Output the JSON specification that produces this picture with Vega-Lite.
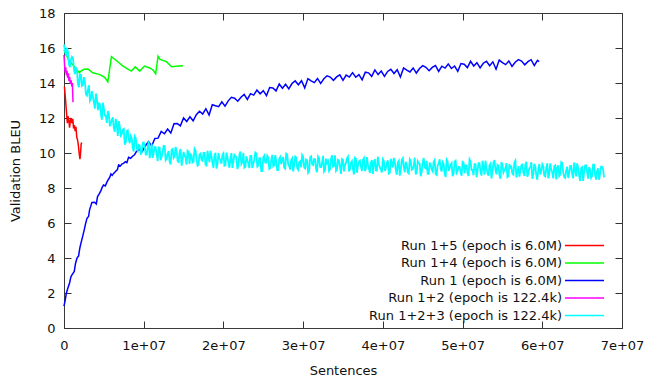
{
  "$schema": "https://vega.github.io/schema/vega-lite/v6.json",
  "width": 558,
  "height": 315,
  "autosize": {"type": "none"},
  "padding": {"left": 64, "top": 13, "right": 24, "bottom": 50},
  "background": "white",
  "config": {
    "font": "DejaVu Sans",
    "view": {"stroke": "#3a3a3a", "strokeWidth": 1},
    "axis": {
      "domain": false,
      "grid": false,
      "tickSize": -7,
      "tickColor": "#333333",
      "tickWidth": 1,
      "labelFont": "DejaVu Sans",
      "labelFontSize": 13,
      "labelColor": "#111111",
      "labelFlush": false,
      "labelOverlap": false,
      "titleFont": "DejaVu Sans",
      "titleFontSize": 13,
      "titleFontWeight": "normal",
      "titleColor": "#111111"
    },
    "legend": {
      "labelFont": "DejaVu Sans",
      "labelFontSize": 13,
      "labelColor": "#111111",
      "labelLimit": 400,
      "symbolType": "M-3,0H3",
      "symbolSize": 169,
      "symbolStrokeWidth": 1.5,
      "padding": 0,
      "rowPadding": 2.5
    }
  },
  "datasets": {
    "run15": [
      {"x":0.05,"y":13.8},{"x":0.15,"y":13.3},{"x":0.3,"y":12.4},{"x":0.42,"y":11.7},{"x":0.5,"y":12.1},{"x":0.6,"y":11.9},{"x":0.7,"y":11.45},{"x":0.8,"y":11.85},{"x":0.9,"y":12.0},{"x":1.0,"y":11.7},{"x":1.1,"y":11.95},{"x":1.2,"y":11.4},{"x":1.3,"y":11.6},{"x":1.4,"y":11.25},{"x":1.5,"y":11.5},{"x":1.6,"y":10.9},{"x":1.7,"y":10.75},{"x":1.8,"y":10.45},{"x":1.9,"y":10.0},{"x":2.0,"y":9.65},{"x":2.08,"y":10.0},{"x":2.15,"y":10.5},{"x":2.22,"y":10.6}
    ],
    "run14": [
      {"x":0,"y":15.9},{"x":0.6,"y":15.3},{"x":1.1,"y":15.05},{"x":1.9,"y":14.6},{"x":2.5,"y":14.78},{"x":3.0,"y":14.8},{"x":3.6,"y":14.58},{"x":4.5,"y":14.48},{"x":5.1,"y":14.33},{"x":5.5,"y":14.07},{"x":5.95,"y":15.5},{"x":6.6,"y":15.27},{"x":7.4,"y":14.97},{"x":8.45,"y":14.68},{"x":8.95,"y":14.92},{"x":9.5,"y":14.68},{"x":10.1,"y":14.97},{"x":10.75,"y":14.86},{"x":11.2,"y":14.73},{"x":11.5,"y":14.53},{"x":11.8,"y":15.53},{"x":12.05,"y":15.35},{"x":12.85,"y":15.22},{"x":13.5,"y":14.93},{"x":14.1,"y":14.96},{"x":14.95,"y":14.98}
    ],
    "run1": [
      {"x":0,"y":1.25},{"x":0.15,"y":1.6},{"x":0.3,"y":2.0},{"x":0.5,"y":2.3},{"x":0.7,"y":2.57},{"x":0.85,"y":2.9},{"x":1.0,"y":3.04},{"x":1.29,"y":3.23},{"x":1.45,"y":3.7},{"x":1.63,"y":3.99},{"x":1.83,"y":4.12},{"x":2.0,"y":4.6},{"x":2.13,"y":4.85},{"x":2.35,"y":5.25},{"x":2.54,"y":5.61},{"x":2.7,"y":5.95},{"x":2.88,"y":6.27},{"x":3.08,"y":6.37},{"x":3.21,"y":6.75},{"x":3.35,"y":6.95},{"x":3.5,"y":7.17},{"x":3.83,"y":7.19},{"x":4.05,"y":7.09},{"x":4.21,"y":7.51},{"x":4.4,"y":7.65},{"x":4.63,"y":7.85},{"x":4.8,"y":8.05},{"x":4.96,"y":8.17},{"x":5.18,"y":8.12},{"x":5.4,"y":8.35},{"x":5.59,"y":8.5},{"x":5.75,"y":8.62},{"x":5.89,"y":8.8},{"x":6.05,"y":8.72},{"x":6.2,"y":8.82},{"x":6.43,"y":8.93},{"x":6.7,"y":9.05},{"x":6.85,"y":9.32},{"x":7.06,"y":9.26},{"x":7.3,"y":9.38},{"x":7.47,"y":9.41},{"x":7.7,"y":9.5},{"x":7.89,"y":9.45},{"x":8.1,"y":9.75},{"x":8.35,"y":9.7},{"x":8.64,"y":9.83},{"x":8.85,"y":9.9},{"x":9.06,"y":10.07},
      {"x":9.4,"y":10.2},{"x":9.8,"y":10.08},{"x":10.2,"y":10.4},{"x":10.6,"y":10.65},{"x":11.0,"y":10.4},{"x":11.4,"y":10.83},{"x":11.8,"y":10.85},{"x":12.2,"y":11.23},{"x":12.6,"y":11.1},{"x":13.0,"y":11.37},{"x":13.4,"y":11.15},{"x":13.8,"y":11.67},{"x":14.2,"y":11.68},{"x":14.6,"y":11.55},{"x":15.0,"y":12.0},{"x":15.4,"y":11.8},{"x":15.8,"y":12.07},{"x":16.2,"y":11.84},{"x":16.6,"y":12.19},{"x":17.0,"y":12.39},{"x":17.4,"y":12.23},{"x":17.8,"y":12.53},{"x":18.2,"y":12.17},{"x":18.6,"y":12.76},{"x":19.0,"y":12.7},{"x":19.4,"y":12.65},{"x":19.8,"y":12.92},{"x":20.2,"y":12.68},{"x":20.6,"y":12.98},{"x":21.0,"y":13.18},{"x":21.4,"y":13.13},{"x":21.8,"y":12.96},{"x":22.2,"y":13.19},{"x":22.6,"y":13.35},{"x":23.0,"y":13.06},{"x":23.4,"y":13.39},{"x":23.8,"y":13.31},{"x":24.2,"y":13.6},{"x":24.6,"y":13.38},{"x":25.0,"y":13.56},{"x":25.4,"y":13.28},{"x":25.8,"y":13.74},{"x":26.2,"y":13.72},{"x":26.6,"y":13.55},{"x":27.0,"y":13.94},{"x":27.4,"y":13.7},{"x":27.8,"y":13.93},{"x":28.2,"y":13.66},{"x":28.6,"y":13.97},{"x":29.0,"y":14.12},{"x":29.4,"y":13.9},{"x":29.8,"y":14.13},{"x":30.2,"y":13.72},{"x":30.6,"y":14.25},{"x":31.0,"y":14.12},{"x":31.4,"y":14.02},{"x":31.8,"y":14.26},{"x":32.2,"y":13.98},{"x":32.6,"y":14.24},{"x":33.0,"y":14.41},{"x":33.4,"y":14.34},{"x":33.8,"y":14.15},{"x":34.2,"y":14.35},{"x":34.6,"y":14.47},{"x":35.0,"y":14.15},{"x":35.4,"y":14.45},{"x":35.8,"y":14.34},{"x":36.2,"y":14.59},{"x":36.6,"y":14.33},{"x":37.0,"y":14.48},{"x":37.4,"y":14.18},{"x":37.8,"y":14.62},{"x":38.2,"y":14.58},{"x":38.6,"y":14.38},{"x":39.0,"y":14.75},{"x":39.4,"y":14.48},{"x":39.8,"y":14.68},{"x":40.2,"y":14.38},{"x":40.6,"y":14.66},{"x":41.0,"y":14.78},{"x":41.4,"y":14.54},{"x":41.8,"y":14.76},{"x":42.2,"y":14.34},{"x":42.6,"y":14.86},{"x":43.0,"y":14.74},{"x":43.4,"y":14.63},{"x":43.8,"y":14.86},{"x":44.2,"y":14.57},{"x":44.6,"y":14.83},{"x":45.0,"y":14.99},{"x":45.4,"y":14.9},{"x":45.8,"y":14.7},{"x":46.2,"y":14.89},{"x":46.6,"y":15.0},{"x":47.0,"y":14.66},{"x":47.4,"y":14.96},{"x":47.8,"y":14.85},{"x":48.2,"y":15.09},{"x":48.6,"y":14.83},{"x":49.0,"y":14.97},{"x":49.4,"y":14.67},{"x":49.8,"y":15.11},{"x":50.2,"y":15.07},{"x":50.6,"y":14.88},{"x":51.0,"y":15.24},{"x":51.4,"y":14.97},{"x":51.8,"y":15.16},{"x":52.2,"y":14.86},{"x":52.6,"y":15.13},{"x":53.0,"y":15.24},{"x":53.4,"y":14.99},{"x":53.8,"y":15.21},{"x":54.2,"y":14.79},{"x":54.6,"y":15.31},{"x":55.0,"y":15.17},{"x":55.4,"y":15.05},{"x":55.8,"y":15.26},{"x":56.2,"y":14.95},{"x":56.6,"y":15.19},{"x":57.0,"y":15.34},{"x":57.4,"y":15.25},{"x":57.8,"y":15.04},{"x":58.2,"y":15.22},{"x":58.6,"y":15.33},{"x":59.0,"y":15.0},{"x":59.4,"y":15.29},{"x":59.6,"y":15.22}
    ],
    "run12": [
      {"x":0,"y":15.6},{"x":0.08,"y":15.0},{"x":0.15,"y":14.6},{"x":0.22,"y":14.9},{"x":0.3,"y":14.45},{"x":0.38,"y":14.7},{"x":0.45,"y":14.3},{"x":0.55,"y":14.55},{"x":0.62,"y":14.1},{"x":0.7,"y":14.35},{"x":0.8,"y":13.95},{"x":0.9,"y":14.15},{"x":0.98,"y":13.8},{"x":1.05,"y":14.0},{"x":1.13,"y":12.9}
    ],
    "run123": [
      {"x":0,"y":16.2},{"x":0.25,"y":15.55},{"x":0.5,"y":15.75},{"x":0.75,"y":14.9},{"x":1.0,"y":15.5},{"x":1.25,"y":14.78},{"x":1.5,"y":14.9},{"x":1.75,"y":13.93},{"x":2.0,"y":14.5},{"x":2.25,"y":13.84},{"x":2.5,"y":14.33},{"x":2.75,"y":13.36},{"x":3.0,"y":13.6},{"x":3.25,"y":12.99},{"x":3.5,"y":13.53},{"x":3.75,"y":12.91},{"x":4.0,"y":13.4},{"x":4.25,"y":12.45},{"x":4.5,"y":12.8},{"x":4.75,"y":11.9},{"x":5.0,"y":12.55},{"x":5.25,"y":12.13},{"x":5.5,"y":12.4},{"x":5.75,"y":11.53},{"x":6.0,"y":11.9},{"x":6.25,"y":11.43},{"x":6.5,"y":11.95},{"x":6.75,"y":10.98},{"x":7.0,"y":11.5},{"x":7.25,"y":11.09},{"x":7.5,"y":11.38},{"x":7.75,"y":10.61},{"x":8.0,"y":11.3},{"x":8.25,"y":10.56},{"x":8.5,"y":10.83},{"x":8.75,"y":10.09},{"x":9.0,"y":10.85},{"x":9.25,"y":10.14},{"x":9.5,"y":10.43},{"x":9.75,"y":10.06},
      {"x":10.0,"y":10.6},{"x":10.25,"y":9.92},{"x":10.5,"y":10.34},{"x":10.75,"y":9.71},{"x":11.0,"y":10.53},{"x":11.25,"y":10.0},{"x":11.5,"y":10.32},{"x":11.75,"y":9.54},{"x":12.0,"y":10.3},{"x":12.25,"y":9.78},{"x":12.5,"y":10.41},{"x":12.75,"y":9.59},{"x":13.0,"y":9.97},{"x":13.25,"y":9.5},{"x":13.5,"y":10.19},{"x":13.75,"y":9.72},{"x":14.0,"y":10.35},{"x":14.25,"y":9.54},{"x":14.5,"y":10.03},{"x":14.75,"y":9.27},{"x":15.0,"y":10.06},{"x":15.25,"y":9.74},{"x":15.5,"y":10.13},{"x":15.75,"y":9.37},{"x":16.0,"y":9.86},{"x":16.25,"y":9.5},{"x":16.5,"y":10.14},{"x":16.75,"y":9.28},{"x":17.0,"y":9.92},{"x":17.25,"y":9.61},{"x":17.5,"y":10.0},{"x":17.75,"y":9.34},{"x":18.0,"y":10.13},{"x":18.25,"y":9.47},{"x":18.5,"y":9.82},{"x":18.75,"y":9.16},{"x":19.0,"y":10.01},{"x":19.25,"y":9.35},{"x":19.5,"y":9.69},{"x":19.75,"y":9.39},
      {"x":20.0,"y":9.98},{"x":20.25,"y":9.32},{"x":20.5,"y":9.77},{"x":20.75,"y":9.16},{"x":21.0,"y":10.0},{"x":21.25,"y":9.5},{"x":21.5,"y":9.84},{"x":21.75,"y":9.08},{"x":22.0,"y":9.88},{"x":22.25,"y":9.37},{"x":22.5,"y":10.01},{"x":22.75,"y":9.21},{"x":23.0,"y":9.6},{"x":23.25,"y":9.14},{"x":23.5,"y":9.84},{"x":23.75,"y":9.38},{"x":24.0,"y":10.03},{"x":24.25,"y":9.22},{"x":24.5,"y":9.71},{"x":24.75,"y":8.96},{"x":25.0,"y":9.75},{"x":25.25,"y":9.45},{"x":25.5,"y":9.84},{"x":25.75,"y":9.09},{"x":26.0,"y":9.59},{"x":26.25,"y":9.23},{"x":26.5,"y":9.88},{"x":26.75,"y":9.02},{"x":27.0,"y":9.67},{"x":27.25,"y":9.37},{"x":27.5,"y":9.76},{"x":27.75,"y":9.11},{"x":28.0,"y":9.91},{"x":28.25,"y":9.25},{"x":28.5,"y":9.6},{"x":28.75,"y":8.94},{"x":29.0,"y":9.79},{"x":29.25,"y":9.14},{"x":29.5,"y":9.48},{"x":29.75,"y":9.18},
      {"x":30.0,"y":9.78},{"x":30.25,"y":9.12},{"x":30.5,"y":9.57},{"x":30.75,"y":8.96},{"x":31.0,"y":9.81},{"x":31.25,"y":9.31},{"x":31.5,"y":9.65},{"x":31.75,"y":8.9},{"x":32.0,"y":9.7},{"x":32.25,"y":9.19},{"x":32.5,"y":9.84},{"x":32.75,"y":9.03},{"x":33.0,"y":9.43},{"x":33.25,"y":8.98},{"x":33.5,"y":9.67},{"x":33.75,"y":9.22},{"x":34.0,"y":9.87},{"x":34.25,"y":9.06},{"x":34.5,"y":9.56},{"x":34.75,"y":8.8},{"x":35.0,"y":9.6},{"x":35.25,"y":9.3},{"x":35.5,"y":9.69},{"x":35.75,"y":8.94},{"x":36.0,"y":9.44},{"x":36.25,"y":9.08},{"x":36.5,"y":9.73},{"x":36.75,"y":8.88},{"x":37.0,"y":9.52},{"x":37.25,"y":9.22},{"x":37.5,"y":9.62},{"x":37.75,"y":8.96},{"x":38.0,"y":9.76},{"x":38.25,"y":9.11},{"x":38.5,"y":9.45},{"x":38.75,"y":8.8},{"x":39.0,"y":9.65},{"x":39.25,"y":8.99},{"x":39.5,"y":9.34},{"x":39.75,"y":9.04},
      {"x":40.0,"y":9.64},{"x":40.25,"y":8.98},{"x":40.5,"y":9.43},{"x":40.75,"y":8.83},{"x":41.0,"y":9.67},{"x":41.25,"y":9.17},{"x":41.5,"y":9.52},{"x":41.75,"y":8.76},{"x":42.0,"y":9.56},{"x":42.25,"y":9.06},{"x":42.5,"y":9.7},{"x":42.75,"y":8.9},{"x":43.0,"y":9.3},{"x":43.25,"y":8.84},{"x":43.5,"y":9.54},{"x":43.75,"y":9.09},{"x":44.0,"y":9.73},{"x":44.25,"y":8.93},{"x":44.5,"y":9.43},{"x":44.75,"y":8.67},{"x":45.0,"y":9.47},{"x":45.25,"y":9.17},{"x":45.5,"y":9.56},{"x":45.75,"y":8.81},{"x":46.0,"y":9.31},{"x":46.25,"y":8.95},{"x":46.5,"y":9.6},{"x":46.75,"y":8.75},{"x":47.0,"y":9.39},{"x":47.25,"y":9.09},{"x":47.5,"y":9.48},{"x":47.75,"y":8.83},{"x":48.0,"y":9.63},{"x":48.25,"y":8.97},{"x":48.5,"y":9.32},{"x":48.75,"y":8.67},{"x":49.0,"y":9.51},{"x":49.25,"y":8.86},{"x":49.5,"y":9.2},{"x":49.75,"y":8.9},
      {"x":50.0,"y":9.5},{"x":50.25,"y":8.84},{"x":50.5,"y":9.29},{"x":50.75,"y":8.69},{"x":51.0,"y":9.53},{"x":51.25,"y":9.03},{"x":51.5,"y":9.37},{"x":51.75,"y":8.62},{"x":52.0,"y":9.42},{"x":52.25,"y":8.91},{"x":52.5,"y":9.56},{"x":52.75,"y":8.76},{"x":53.0,"y":9.15},{"x":53.25,"y":8.7},{"x":53.5,"y":9.39},{"x":53.75,"y":8.94},{"x":54.0,"y":9.59},{"x":54.25,"y":8.78},{"x":54.5,"y":9.28},{"x":54.75,"y":8.53},{"x":55.0,"y":9.33},{"x":55.25,"y":9.02},{"x":55.5,"y":9.42},{"x":55.75,"y":8.67},{"x":56.0,"y":9.16},{"x":56.25,"y":8.81},{"x":56.5,"y":9.46},{"x":56.75,"y":8.6},{"x":57.0,"y":9.25},{"x":57.25,"y":8.95},{"x":57.5,"y":9.34},{"x":57.75,"y":8.69},{"x":58.0,"y":9.49},{"x":58.25,"y":8.83},{"x":58.5,"y":9.18},{"x":58.75,"y":8.53},{"x":59.0,"y":9.38},{"x":59.25,"y":8.72},{"x":59.5,"y":9.07},{"x":59.75,"y":8.77},
      {"x":60.0,"y":9.36},{"x":60.25,"y":8.71},{"x":60.5,"y":9.16},{"x":60.75,"y":8.55},{"x":61.0,"y":9.4},{"x":61.25,"y":8.9},{"x":61.5,"y":9.24},{"x":61.75,"y":8.49},{"x":62.0,"y":9.29},{"x":62.25,"y":8.78},{"x":62.5,"y":9.43},{"x":62.75,"y":8.63},{"x":63.0,"y":9.02},{"x":63.25,"y":8.57},{"x":63.5,"y":9.27},{"x":63.75,"y":8.81},{"x":64.0,"y":9.46},{"x":64.25,"y":8.66},{"x":64.5,"y":9.15},{"x":64.75,"y":8.4},{"x":65.0,"y":9.2},{"x":65.25,"y":8.9},{"x":65.5,"y":9.29},{"x":65.75,"y":8.54},{"x":66.0,"y":9.04},{"x":66.25,"y":8.68},{"x":66.5,"y":9.33},{"x":66.75,"y":8.48},{"x":67.0,"y":9.12},{"x":67.25,"y":8.82},{"x":67.5,"y":9.22},{"x":67.75,"y":8.6},
      {"x":0.125,"y":15.82},{"x":0.375,"y":16.02},{"x":0.625,"y":15.07},{"x":0.875,"y":15.32},{"x":1.125,"y":15.44},{"x":1.375,"y":14.51},{"x":1.625,"y":14.74},{"x":1.875,"y":13.76},{"x":2.125,"y":14.47},{"x":2.375,"y":13.91},{"x":2.625,"y":14.05},{"x":2.875,"y":13.28},{"x":3.125,"y":13.87},{"x":3.375,"y":13.11},{"x":3.625,"y":13.2},{"x":3.875,"y":12.53},{"x":4.125,"y":13.12},{"x":4.375,"y":12.83},{"x":4.625,"y":12.23},{"x":4.875,"y":12.88},{"x":5.125,"y":12.14},{"x":5.375,"y":11.72},{"x":5.625,"y":12.24},{"x":5.875,"y":11.72},{"x":6.125,"y":12.04},{"x":6.375,"y":11.22},{"x":6.625,"y":11.59},{"x":6.875,"y":11.82},{"x":7.125,"y":11.0},{"x":7.375,"y":11.34},{"x":7.625,"y":10.47},{"x":7.875,"y":11.25},{"x":8.125,"y":10.75},{"x":8.375,"y":10.97},{"x":8.625,"y":10.29},{"x":8.875,"y":10.95},{"x":9.125,"y":10.27},{"x":9.375,"y":10.46},{"x":9.625,"y":9.9},{"x":9.875,"y":10.58},
      {"x":10.125,"y":10.39},{"x":10.375,"y":9.91},{"x":10.625,"y":10.68},{"x":10.875,"y":10.05},{"x":11.125,"y":9.72},{"x":11.375,"y":10.34},{"x":11.625,"y":9.91},{"x":11.875,"y":10.32},{"x":12.125,"y":9.59},{"x":12.375,"y":10.07},{"x":12.625,"y":10.4},{"x":12.875,"y":9.68},{"x":13.125,"y":10.11},{"x":13.375,"y":9.35},{"x":13.625,"y":10.23},{"x":13.875,"y":9.81},{"x":14.125,"y":10.1},{"x":14.375,"y":9.49},{"x":14.625,"y":10.23},{"x":14.875,"y":9.62},{"x":15.125,"y":9.85},{"x":15.375,"y":9.34},{"x":15.625,"y":10.08},{"x":15.875,"y":9.92},{"x":16.125,"y":9.46},{"x":16.375,"y":10.25},{"x":16.625,"y":9.64},{"x":16.875,"y":9.33},{"x":17.125,"y":9.97},{"x":17.375,"y":9.56},{"x":17.625,"y":10.0},{"x":17.875,"y":9.29},{"x":18.125,"y":9.78},{"x":18.375,"y":10.12},{"x":18.625,"y":9.42},{"x":18.875,"y":9.86},{"x":19.125,"y":9.11},{"x":19.375,"y":10.0},{"x":19.625,"y":9.59},{"x":19.875,"y":9.89},
      {"x":20.125,"y":9.28},{"x":20.375,"y":10.02},{"x":20.625,"y":9.42},{"x":20.875,"y":9.66},{"x":21.125,"y":9.15},{"x":21.375,"y":9.9},{"x":21.625,"y":9.74},{"x":21.875,"y":9.28},{"x":22.125,"y":10.08},{"x":22.375,"y":9.47},{"x":22.625,"y":9.16},{"x":22.875,"y":9.81},{"x":23.125,"y":9.4},{"x":23.375,"y":9.84},{"x":23.625,"y":9.14},{"x":23.875,"y":9.63},{"x":24.125,"y":9.98},{"x":24.375,"y":9.27},{"x":24.625,"y":9.71},{"x":24.875,"y":8.96},{"x":25.125,"y":9.85},{"x":25.375,"y":9.45},{"x":25.625,"y":9.74},{"x":25.875,"y":9.14},{"x":26.125,"y":9.89},{"x":26.375,"y":9.28},{"x":26.625,"y":9.53},{"x":26.875,"y":9.02},{"x":27.125,"y":9.77},{"x":27.375,"y":9.62},{"x":27.625,"y":9.16},{"x":27.875,"y":9.96},{"x":28.125,"y":9.36},{"x":28.375,"y":9.05},{"x":28.625,"y":9.7},{"x":28.875,"y":9.29},{"x":29.125,"y":9.74},{"x":29.375,"y":9.04},{"x":29.625,"y":9.53},{"x":29.875,"y":9.88},
      {"x":30.125,"y":9.18},{"x":30.375,"y":9.62},{"x":30.625,"y":8.87},{"x":30.875,"y":9.76},{"x":31.125,"y":9.36},{"x":31.375,"y":9.66},{"x":31.625,"y":9.05},{"x":31.875,"y":9.8},{"x":32.125,"y":9.2},{"x":32.375,"y":9.44},{"x":32.625,"y":8.94},{"x":32.875,"y":9.68},{"x":33.125,"y":9.53},{"x":33.375,"y":9.08},{"x":33.625,"y":9.87},{"x":33.875,"y":9.27},{"x":34.125,"y":8.97},{"x":34.375,"y":9.61},{"x":34.625,"y":9.21},{"x":34.875,"y":9.65},{"x":35.125,"y":8.95},{"x":35.375,"y":9.45},{"x":35.625,"y":9.79},{"x":35.875,"y":9.09},{"x":36.125,"y":9.54},{"x":36.375,"y":8.78},{"x":36.625,"y":9.68},{"x":36.875,"y":9.28},{"x":37.125,"y":9.57},{"x":37.375,"y":8.97},{"x":37.625,"y":9.72},{"x":37.875,"y":9.11},{"x":38.125,"y":9.36},{"x":38.375,"y":8.86},{"x":38.625,"y":9.6},{"x":38.875,"y":9.45},{"x":39.125,"y":9.0},{"x":39.375,"y":9.79},{"x":39.625,"y":9.19},{"x":39.875,"y":8.89},
      {"x":40.125,"y":9.54},{"x":40.375,"y":9.13},{"x":40.625,"y":9.58},{"x":40.875,"y":8.88},{"x":41.125,"y":9.37},{"x":41.375,"y":9.72},{"x":41.625,"y":9.02},{"x":41.875,"y":9.46},{"x":42.125,"y":8.71},{"x":42.375,"y":9.61},{"x":42.625,"y":9.2},{"x":42.875,"y":9.5},{"x":43.125,"y":8.9},{"x":43.375,"y":9.64},{"x":43.625,"y":9.04},{"x":43.875,"y":9.29},{"x":44.125,"y":8.78},{"x":44.375,"y":9.53},{"x":44.625,"y":9.38},{"x":44.875,"y":8.92},{"x":45.125,"y":9.72},{"x":45.375,"y":9.12},{"x":45.625,"y":8.81},{"x":45.875,"y":9.46},{"x":46.125,"y":9.06},{"x":46.375,"y":9.5},{"x":46.625,"y":8.8},{"x":46.875,"y":9.3},{"x":47.125,"y":9.64},{"x":47.375,"y":8.94},{"x":47.625,"y":9.38},{"x":47.875,"y":8.63},{"x":48.125,"y":9.53},{"x":48.375,"y":9.12},{"x":48.625,"y":9.42},{"x":48.875,"y":8.82},{"x":49.125,"y":9.56},{"x":49.375,"y":8.96},{"x":49.625,"y":9.2},{"x":49.875,"y":8.7},
      {"x":50.125,"y":9.45},{"x":50.375,"y":9.29},{"x":50.625,"y":8.84},{"x":50.875,"y":9.64},{"x":51.125,"y":9.03},{"x":51.375,"y":8.73},{"x":51.625,"y":9.37},{"x":51.875,"y":8.97},{"x":52.125,"y":9.42},{"x":52.375,"y":8.71},{"x":52.625,"y":9.21},{"x":52.875,"y":9.56},{"x":53.125,"y":8.85},{"x":53.375,"y":9.3},{"x":53.625,"y":8.54},{"x":53.875,"y":9.44},{"x":54.125,"y":9.04},{"x":54.375,"y":9.33},{"x":54.625,"y":8.73},{"x":54.875,"y":9.48},{"x":55.125,"y":8.88},{"x":55.375,"y":9.12},{"x":55.625,"y":8.62},{"x":55.875,"y":9.37},{"x":56.125,"y":9.21},{"x":56.375,"y":8.76},{"x":56.625,"y":9.56},{"x":56.875,"y":8.95},{"x":57.125,"y":8.65},{"x":57.375,"y":9.3},{"x":57.625,"y":8.89},{"x":57.875,"y":9.34},{"x":58.125,"y":8.64},{"x":58.375,"y":9.13},{"x":58.625,"y":9.48},{"x":58.875,"y":8.78},{"x":59.125,"y":9.23},{"x":59.375,"y":8.47},{"x":59.625,"y":9.37},{"x":59.875,"y":8.97},
      {"x":60.125,"y":9.26},{"x":60.375,"y":8.66},{"x":60.625,"y":9.41},{"x":60.875,"y":8.8},{"x":61.125,"y":9.05},{"x":61.375,"y":8.55},{"x":61.625,"y":9.29},{"x":61.875,"y":9.14},{"x":62.125,"y":8.69},{"x":62.375,"y":9.48},{"x":62.625,"y":8.88},{"x":62.875,"y":8.58},{"x":63.125,"y":9.22},{"x":63.375,"y":8.82},{"x":63.625,"y":9.27},{"x":63.875,"y":8.56},{"x":64.125,"y":9.06},{"x":64.375,"y":9.41},{"x":64.625,"y":8.7},{"x":64.875,"y":9.15},{"x":65.125,"y":8.4},{"x":65.375,"y":9.29},{"x":65.625,"y":8.89},{"x":65.875,"y":9.19},{"x":66.125,"y":8.58},{"x":66.375,"y":9.33},{"x":66.625,"y":8.73},{"x":66.875,"y":8.97},{"x":67.125,"y":8.47},{"x":67.375,"y":9.22},{"x":67.625,"y":9.07}
    ]
  },
  "layer": [
    {
      "data": {"name": "run15"},
      "mark": {"type": "line", "strokeWidth": 1.5},
      "encoding": {
        "x": {"field": "x", "type": "quantitative", "scale": {"domain": [0, 70], "nice": false, "zero": false},
              "axis": {"orient": "bottom", "values": [0,10,20,30,40,50,60,70], "labelExpr": "datum.value == 0 ? '0' : (datum.value/10) + 'e+07'", "labelPadding": 18, "title": "Sentences", "titlePadding": 12}},
        "y": {"field": "y", "type": "quantitative", "scale": {"domain": [0, 18], "nice": false, "zero": false},
              "axis": {"orient": "left", "values": [0,2,4,6,8,10,12,14,16,18], "labelPadding": 16, "title": "Validation BLEU", "titlePadding": 16}},
        "color": {"datum": "Run 1+5 (epoch is 6.0M)", "type": "nominal",
                  "scale": {"domain": ["Run 1+5 (epoch is 6.0M)", "Run 1+4 (epoch is 6.0M)", "Run 1 (epoch is 6.0M)", "Run 1+2 (epoch is 122.4k)", "Run 1+2+3 (epoch is 122.4k)"],
                            "range": ["#ff0000", "#00ff00", "#0000ff", "#ff00ff", "#00ffff"]},
                  "legend": {"title": null, "orient": "none", "legendX": 513, "legendY": 225, "labelAlign": "right", "labelOffset": -30}}
      }
    },
    {
      "data": {"name": "run14"},
      "mark": {"type": "line", "strokeWidth": 1.5},
      "encoding": {
        "x": {"field": "x", "type": "quantitative", "axis": {"orient": "top", "values": [0,10,20,30,40,50,60,70], "labels": false, "title": null}},
        "y": {"field": "y", "type": "quantitative", "axis": {"orient": "right", "values": [0,2,4,6,8,10,12,14,16,18], "labels": false, "title": null}},
        "color": {"datum": "Run 1+4 (epoch is 6.0M)", "type": "nominal"}
      }
    },
    {
      "data": {"name": "run1"},
      "mark": {"type": "line", "strokeWidth": 1.5},
      "encoding": {
        "x": {"field": "x", "type": "quantitative", "axis": null},
        "y": {"field": "y", "type": "quantitative", "axis": null},
        "color": {"datum": "Run 1 (epoch is 6.0M)", "type": "nominal"}
      }
    },
    {
      "data": {"name": "run12"},
      "mark": {"type": "line", "strokeWidth": 1.5},
      "encoding": {
        "x": {"field": "x", "type": "quantitative", "axis": null},
        "y": {"field": "y", "type": "quantitative", "axis": null},
        "color": {"datum": "Run 1+2 (epoch is 122.4k)", "type": "nominal"}
      }
    },
    {
      "data": {"name": "run123"},
      "mark": {"type": "line", "strokeWidth": 1.8},
      "encoding": {
        "x": {"field": "x", "type": "quantitative", "axis": null},
        "y": {"field": "y", "type": "quantitative", "axis": null},
        "color": {"datum": "Run 1+2+3 (epoch is 122.4k)", "type": "nominal"}
      }
    }
  ],
  "resolve": {"axis": {"x": "independent", "y": "independent"}}
}
